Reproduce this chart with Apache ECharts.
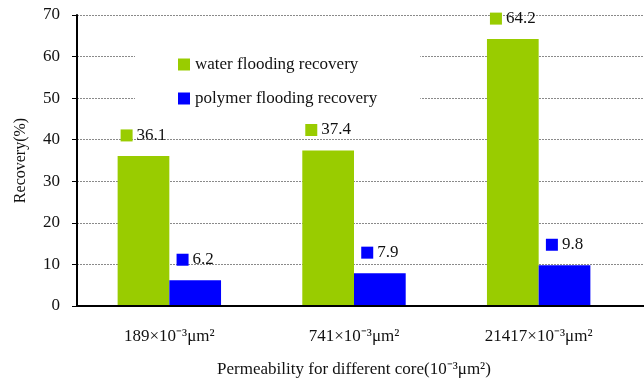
<!DOCTYPE html>
<html>
<head>
<meta charset="utf-8">
<script src="https://cdn.jsdelivr.net/npm/echarts@6/dist/echarts.min.js"></script>
<style>
  html, body { margin: 0; padding: 0; background: #fff; }
  #chart { width: 644px; height: 378px; }
</style>
</head>
<body>
<div id="chart"></div>
<script>
// Core permeability groups and recovery values (%)
const categories = ['189×10⁻³μm²', '741×10⁻³μm²', '21417×10⁻³μm²'];
const waterRecovery = [36.1, 37.4, 64.2];
const polymerRecovery = [6.2, 7.9, 9.8];
const seriesNames = ['water flooding recovery', 'polymer flooding recovery'];
const yTicks = { min: 0, max: 70, interval: 10 };

const FONT = '"Liberation Serif", "Times New Roman", serif';
const GREEN = '#99CC00';
const BLUE = '#0000FF';

function valueLabel(color) {
  return {
    show: true,
    position: 'top',
    distance: 12,
    formatter: p => '{sq|}{v|' + p.value + '}',
    rich: {
      sq: { width: 12, height: 12, backgroundColor: color },
      v: { fontFamily: FONT, fontSize: 17, color: '#111', padding: [0, 0, 0, 4] }
    }
  };
}

const chart = echarts.init(document.getElementById('chart'));
chart.setOption({
  animation: false,
  backgroundColor: '#fff',
  textStyle: { fontFamily: FONT },
  grid: [
    // bars and axes
    { left: 77, right: 13, top: 15, bottom: 72, outerBoundsMode: 'none', containLabel: false },
    // gridlines and baseline running to the right edge
    { left: 77, right: 0, top: 15, bottom: 72, outerBoundsMode: 'none', containLabel: false }
  ],
  legend: {
    orient: 'vertical',
    left: 135,
    top: 48,
    padding: [8, 43, 5, 43],
    backgroundColor: '#fff',
    itemWidth: 12,
    itemHeight: 12,
    itemGap: 17,
    icon: 'rect',
    textStyle: { fontFamily: FONT, fontSize: 17, color: '#111', padding: [0, 0, 0, 0] },
    data: seriesNames
  },
  xAxis: [
    {
      type: 'category',
      gridIndex: 0,
      data: categories,
      name: 'Permeability for different core(10⁻³μm²)',
      nameLocation: 'middle',
      nameGap: 55,
      nameTextStyle: { fontFamily: FONT, fontSize: 17, color: '#111' },
      axisLine: { lineStyle: { color: '#000', width: 2 } },
      axisTick: { inside: true, length: 5, lineStyle: { color: '#000' } },
      axisLabel: { fontFamily: FONT, fontSize: 17, color: '#111', margin: 22 },
      z: 5
    },
    {
      type: 'value',
      gridIndex: 1,
      axisLine: { show: true, onZero: false, lineStyle: { color: '#000', width: 2 } },
      axisTick: { show: false },
      axisLabel: { show: false },
      splitLine: { show: false }
    }
  ],
  yAxis: [
    {
      type: 'value',
      gridIndex: 0,
      min: yTicks.min,
      max: yTicks.max,
      interval: yTicks.interval,
      name: 'Recovery(%)',
      nameLocation: 'middle',
      nameGap: 48,
      nameTextStyle: { fontFamily: FONT, fontSize: 16, color: '#111' },
      axisLine: { show: true, lineStyle: { color: '#000', width: 2 } },
      axisTick: { show: true, length: 5, lineStyle: { color: '#000' } },
      axisLabel: { fontFamily: FONT, fontSize: 17, color: '#111', margin: 17 },
      splitLine: { show: false },
      z: 5
    },
    {
      type: 'value',
      gridIndex: 1,
      min: yTicks.min,
      max: yTicks.max,
      interval: yTicks.interval,
      axisLine: { show: false },
      axisTick: { show: false },
      axisLabel: { show: false },
      splitLine: { lineStyle: { color: '#8a8a8a', type: [2, 1], width: 1 } }
    }
  ],
  series: [
    {
      name: seriesNames[0],
      type: 'bar',
      xAxisIndex: 0,
      yAxisIndex: 0,
      data: waterRecovery,
      barGap: '0%',
      barCategoryGap: '44%',
      itemStyle: { color: GREEN },
      label: valueLabel(GREEN),
      z: 3
    },
    {
      name: seriesNames[1],
      type: 'bar',
      xAxisIndex: 0,
      yAxisIndex: 0,
      data: polymerRecovery,
      itemStyle: { color: BLUE },
      label: valueLabel(BLUE),
      z: 3
    }
  ]
});
</script>
</body>
</html>
